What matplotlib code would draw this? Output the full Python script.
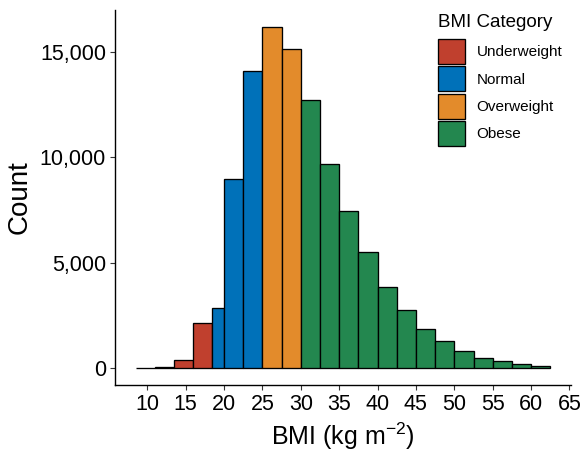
import matplotlib
matplotlib.use("Agg")
import matplotlib.pyplot as plt
from matplotlib.patches import Patch
from matplotlib.ticker import FuncFormatter

plt.rcParams['font.family'] = ['Liberation Sans', 'DejaVu Sans']
plt.rcParams['mathtext.fontset'] = 'custom'
plt.rcParams['mathtext.rm'] = 'Liberation Sans'
plt.rcParams['mathtext.it'] = 'Liberation Sans:italic'

# histogram bins (BMI, kg m^-2), split at the category cut points
bin_edges = [8.5, 11, 13.5, 16, 18.5, 20, 22.5, 25, 27.5, 30, 32.5, 35, 37.5,
             40, 42.5, 45, 47.5, 50, 52.5, 55, 57.5, 60, 62.5]
bin_counts = [20, 30, 370, 2130, 2870, 8970, 14080, 16190, 15160, 12730, 9690,
              7450, 5500, 3840, 2740, 1870, 1270, 810, 490, 330, 180, 70]
bin_category = (['Underweight'] * 4 + ['Normal'] * 3 + ['Overweight'] * 2
                + ['Obese'] * 13)

categories = ['Underweight', 'Normal', 'Overweight', 'Obese']
cat_colors = {'Underweight': '#C0402E', 'Normal': '#0071B9',
              'Overweight': '#E38B2B', 'Obese': '#23874F'}

x_ticks = [10, 15, 20, 25, 30, 35, 40, 45, 50, 55, 60, 65]
y_ticks = [0, 5000, 10000, 15000]

W, H = 583, 453
fig = plt.figure(figsize=(W / 100, H / 100), dpi=100)
ax = fig.add_axes([115 / W, 1 - 385 / H, 456 / W, 375 / H])

lefts = bin_edges[:-1]
widths = [b - a for a, b in zip(bin_edges[:-1], bin_edges[1:])]
colors = [cat_colors[c] for c in bin_category]
ax.bar(lefts, bin_counts, width=widths, align='edge', color=colors,
       edgecolor='black', linewidth=0.95)

# ggplot style 5% expansion
span_x = bin_edges[-1] - bin_edges[0]
ax.set_xlim(bin_edges[0] - 0.05 * span_x, bin_edges[-1] + 0.05 * span_x)
top = max(bin_counts)
ax.set_ylim(-0.05 * top, 1.05 * top)

ax.set_xticks(x_ticks)
ax.set_yticks(y_ticks)
ax.yaxis.set_major_formatter(FuncFormatter(lambda v, p: f"{int(v):,}"))
ax.tick_params(axis='both', labelsize=15.5, length=3.5, width=0.8,
               color='#333333', labelcolor='black', pad=3)

for side in ['top', 'right']:
    ax.spines[side].set_visible(False)
for side in ['left', 'bottom']:
    ax.spines[side].set_linewidth(1.0)

ax.set_xlabel("BMI (kg m$^{-2}$)", fontsize=18, labelpad=4)
ax.set_ylabel("Count", fontsize=20, labelpad=5)

# legend: title as its own text, keys below
fig.text(438 / W, 1 - 27 / H, 'BMI Category', fontsize=13.5,
         ha='left', va='baseline')
handles = [Patch(facecolor=cat_colors[c], edgecolor='black', linewidth=0.95,
                 label=c) for c in categories]
fs = 11
px = fs * 100 / 72
# matplotlib shrinks patch handles: drawn height = px * (0.65 * hh + 0.245)
hh = (25 / px - 0.245) / 0.65
fig.legend(handles=handles, loc='upper left',
           bbox_to_anchor=(438 / W, 1 - 39 / H), frameon=False, fontsize=fs,
           handlelength=27 / px, handleheight=hh,
           labelspacing=2.4 / px, handletextpad=11.5 / px,
           borderpad=0, borderaxespad=0)

fig.savefig('out.png', dpi=100)
